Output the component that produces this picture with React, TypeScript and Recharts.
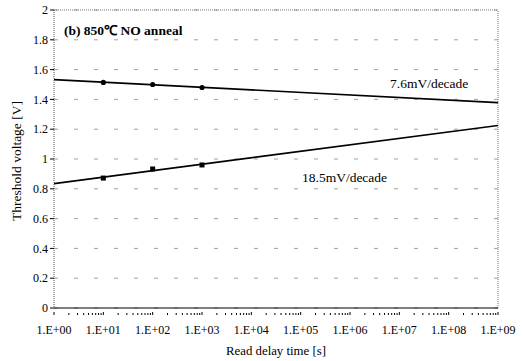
import React from "react";
import {
  ComposedChart,
  Line,
  Scatter,
  XAxis,
  YAxis,
  CartesianGrid,
  ReferenceLine,
} from "recharts";

// fitted lines (endpoints at 1E+00 and 1E+09)
const fitTimes = [1, 1e9];
const upperFit = [1.533, 1.378];
const lowerFit = [0.835, 1.225];

// measured points
const sampleTimes = [10, 100, 1000];
const upperPoints = [1.514, 1.5, 1.48];
const lowerPoints = [0.872, 0.933, 0.96];

const majorTicks = [1, 1e1, 1e2, 1e3, 1e4, 1e5, 1e6, 1e7, 1e8, 1e9];
const yTicks = [0, 0.2, 0.4, 0.6, 0.8, 1, 1.2, 1.4, 1.6, 1.8, 2];

const FONT = "Liberation Serif";

// log minor ticks 2..9 inside each decade
const allTicks: number[] = [];
majorTicks.forEach((m, i) => {
  allTicks.push(m);
  if (i < majorTicks.length - 1) {
    for (let k = 2; k <= 9; k++) allTicks.push(m * k);
  }
});

const upperFitData = fitTimes.map((t, i) => ({ t, v: upperFit[i] }));
const lowerFitData = fitTimes.map((t, i) => ({ t, v: lowerFit[i] }));
const upperPtData = sampleTimes.map((t, i) => ({ t, v: upperPoints[i] }));
const lowerPtData = sampleTimes.map((t, i) => ({ t, v: lowerPoints[i] }));

const expLabel = (v: number) => {
  const e = Math.round(Math.log10(v));
  return "1.E+" + String(e).padStart(2, "0");
};

function XTick(props: any) {
  const { x, y, payload } = props;
  const v = payload.value as number;
  const e = Math.log10(v);
  const major = Math.abs(e - Math.round(e)) < 1e-6;
  return (
    <g>
      <line x1={x} x2={x} y1={y - 1} y2={y - (major ? 4 : 3)} stroke="#000" strokeWidth={1} />
      {major && (
        <text x={x} y={y + 18} textAnchor="middle" fontSize={12} fontFamily={FONT} fill="#000">
          {expLabel(v)}
        </text>
      )}
    </g>
  );
}

const square = (props: any) => {
  const { cx, cy } = props;
  return <rect x={cx - 2.5} y={cy - 2.5} width={5} height={5} fill="#000" />;
};

const dot = (props: any) => {
  const { cx, cy } = props;
  return <circle cx={cx} cy={cy} r={2.6} fill="#000" />;
};

export default function App() {
  return (
    <div style={{ position: "absolute", left: 0, top: 0, width: 524, height: 361, background: "#fff", fontFamily: FONT }}>
      <ComposedChart width={524} height={361} margin={{ top: 10, right: 26, left: 0, bottom: 0 }}>
        <CartesianGrid horizontal vertical={false} stroke="#a0a0a0" strokeDasharray="4 16" />
        <XAxis
          dataKey="t"
          type="number"
          scale="log"
          domain={[1, 1e9]}
          ticks={allTicks}
          interval={0}
          height={53}
          axisLine={{ stroke: "#000", strokeWidth: 1.2 }}
          tickLine={false}
          tick={<XTick />}
          allowDataOverflow
        />
        <YAxis
          type="number"
          domain={[0, 2]}
          ticks={yTicks}
          width={54}
          axisLine={{ stroke: "#555", strokeDasharray: "1 1" }}
          tickLine={{ stroke: "#000" }}
          tickSize={4}
          tick={{ fontSize: 12, fontFamily: FONT, fill: "#000" }}
          tickFormatter={(v: number) => String(Math.round(v * 10) / 10)}
          allowDataOverflow
        />
        <ReferenceLine y={2} stroke="#777" strokeDasharray="1 1" />
        <ReferenceLine x={1e9} stroke="#777" strokeDasharray="1 1" />
        <Line data={upperFitData} dataKey="v" stroke="#000" strokeWidth={1.7} dot={false} isAnimationActive={false} />
        <Line data={lowerFitData} dataKey="v" stroke="#000" strokeWidth={1.7} dot={false} isAnimationActive={false} />
        <Scatter data={upperPtData} dataKey="v" shape={dot} isAnimationActive={false} />
        <Scatter data={lowerPtData} dataKey="v" shape={square} isAnimationActive={false} />
      </ComposedChart>
      <div style={{ position: "absolute", left: 64, top: 21, fontSize: 13.5, fontWeight: "bold", whiteSpace: "nowrap" }}>
        (b) 850℃ NO anneal
      </div>
      <div style={{ position: "absolute", left: 390, top: 76, fontSize: 13.5, whiteSpace: "nowrap" }}>
        7.6mV/decade
      </div>
      <div style={{ position: "absolute", left: 302, top: 170, fontSize: 13.5, whiteSpace: "nowrap" }}>
        18.5mV/decade
      </div>
      <div style={{ position: "absolute", left: 196, top: 344, width: 160, textAlign: "center", fontSize: 12.8, whiteSpace: "nowrap" }}>
        Read delay time [s]
      </div>
      <div
        style={{
          position: "absolute",
          left: 17,
          top: 161,
          fontSize: 13.5,
          whiteSpace: "nowrap",
          transform: "translate(-50%, -50%) rotate(-90deg)",
        }}
      >
        Threshold voltage [V]
      </div>
    </div>
  );
}
